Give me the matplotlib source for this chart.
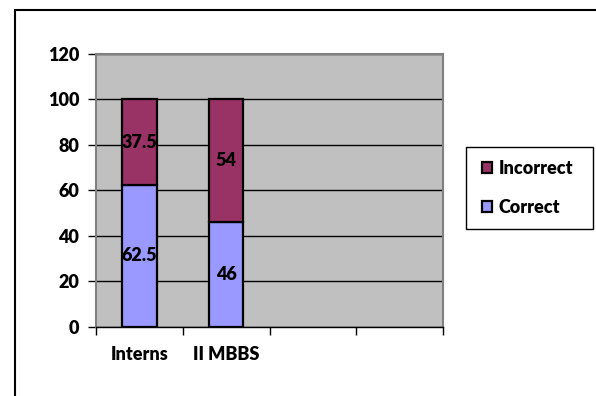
import matplotlib.pyplot as plt
from matplotlib.patches import Rectangle, Patch
import numpy as np

# Data
groups = ['Interns', 'II MBBS', '', '']
correct = [62.5, 46]
incorrect = [37.5, 54]

plt.rcParams['font.family'] = ['Lato', 'DejaVu Sans']
plt.rcParams['font.weight'] = 'bold'
fs = 13

fig = plt.figure(figsize=(5.96, 3.96), dpi=100)
ax = fig.add_axes([96 / 596, 1 - 326.7 / 396, (443 - 96) / 596, (326.7 - 54) / 396])
ax.set_facecolor('#C0C0C0')

x = np.arange(len(correct))
width = 0.4
ax.bar(x, correct, width, color='#9999FF', edgecolor='black', linewidth=1.6, zorder=3)
ax.bar(x, incorrect, width, bottom=correct, color='#993366', edgecolor='black', linewidth=1.6, zorder=3)

# value labels in the middle of each segment
for i in range(len(correct)):
    ax.text(x[i], correct[i] / 2, f'{correct[i]:g}', ha='center', va='center',
            fontsize=fs, fontweight='heavy', zorder=4)
    ax.text(x[i], correct[i] + incorrect[i] / 2, f'{incorrect[i]:g}', ha='center', va='center',
            fontsize=fs, fontweight='heavy', zorder=4)

ax.set_xlim(-0.5, len(groups) - 0.5)
ax.set_ylim(0, 120)
ax.set_yticks(range(0, 121, 20))
ax.yaxis.grid(True, color='black', linewidth=1.0, zorder=1)
ax.set_axisbelow(True)
ax.tick_params(axis='y', direction='out', length=6, width=1, labelsize=fs, pad=6)
for lbl in ax.get_yticklabels():
    lbl.set_fontweight('heavy')

# category boundaries get the ticks, names sit in between
ax.set_xticks(np.arange(-0.5, len(groups), 1))
ax.set_xticklabels([])
ax.set_xticks(np.arange(len(groups)), minor=True)
ax.set_xticklabels(groups, minor=True, fontsize=fs, fontweight='heavy')
ax.tick_params(axis='x', which='major', direction='out', length=6, width=1)
ax.tick_params(axis='x', which='minor', length=0, pad=14)

for side in ['left', 'right', 'top']:
    ax.spines[side].set_color('#808080')
    ax.spines[side].set_linewidth(1.5)
ax.spines['bottom'].set_color('black')
ax.spines['bottom'].set_linewidth(1.0)

# legend, with its own frame drawn separately
handles = [Patch(facecolor='#993366', edgecolor='black', linewidth=1.6, label='Incorrect'),
           Patch(facecolor='#9999FF', edgecolor='black', linewidth=1.6, label='Correct')]
leg = fig.legend(handles=handles, loc='center left', bbox_to_anchor=(482 / 596, 1 - 188 / 396),
                 frameon=False, prop={'size': fs, 'weight': 'heavy'},
                 handlelength=0.55, handleheight=0.55, handletextpad=0.35,
                 labelspacing=1.25, borderpad=0, borderaxespad=0)
fig.patches.append(Rectangle((466 / 596, 1 - 229 / 396), 127 / 596, 82 / 396,
                             transform=fig.transFigure, fill=False,
                             edgecolor='black', linewidth=1.0))

# outer chart border
fig.patches.append(Rectangle((15 / 596, -0.1), 1.2, 1.1 - 10 / 396,
                             transform=fig.transFigure, fill=False,
                             edgecolor='black', linewidth=1.5))

fig.savefig('out.png', dpi=100)
